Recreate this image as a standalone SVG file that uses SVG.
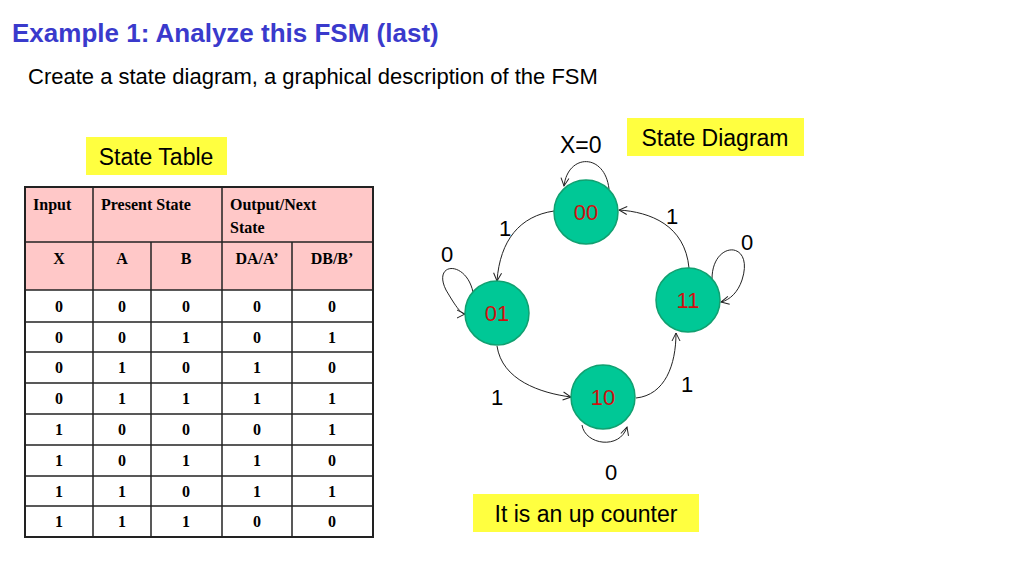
<svg xmlns="http://www.w3.org/2000/svg" width="1024" height="576" viewBox="0 0 1024 576">
<defs>
<style>
.s{font-family:"Liberation Sans",Arial,sans-serif}
.t{font-family:"Liberation Serif","Times New Roman",serif;font-size:16px;text-anchor:middle}
.h{font-family:"Liberation Serif","Times New Roman",serif;font-size:16px;font-weight:bold}
.n{fill:#00c896;stroke:#10a070;stroke-width:1.5}
.nl{font-family:"Liberation Sans",Arial,sans-serif;font-size:22px;fill:#d01010;text-anchor:middle}
.e{fill:none;stroke:#222;stroke-width:1;marker-end:url(#a)}
.l{font-family:"Liberation Sans",Arial,sans-serif;font-size:22px;fill:#000}
.g{stroke:#222;stroke-width:1.5}
</style>
<marker id="a" markerWidth="10" markerHeight="10" refX="9" refY="5" orient="auto" markerUnits="userSpaceOnUse"><path d="M1,1 L9,5 L1,9" fill="none" stroke="#222"/></marker>
</defs>
<rect width="1024" height="576" fill="#fff"/>
<text x="12" y="42" class="s" font-size="26" font-weight="bold" fill="#3a3acc">Example 1: Analyze this FSM (last)</text>
<text x="28" y="84" class="s" font-size="22">Create a state diagram, a graphical description of the FSM</text>
<rect x="86" y="137" width="141" height="38" fill="#ffff40"/>
<text x="156" y="165" class="s" font-size="23" text-anchor="middle">State Table</text>
<rect x="627" y="118" width="177" height="38" fill="#ffff40"/>
<text x="715" y="146" class="s" font-size="23" text-anchor="middle">State Diagram</text>
<text x="560" y="153" class="s" font-size="23">X=0</text>
<rect x="473" y="494" width="226" height="38" fill="#ffff40"/>
<text x="586" y="522" class="s" font-size="23" text-anchor="middle">It is an up counter</text>
<g id="table">
<rect x="25" y="187" width="348" height="103" fill="#ffc8c8"/>
<rect x="25" y="187" width="348" height="350" fill="none" stroke="#222" stroke-width="2"/>
<g class="g">
<line x1="25" y1="242" x2="373" y2="242"/>
<line x1="25" y1="290" x2="373" y2="290"/>
<line x1="25" y1="322" x2="373" y2="322"/>
<line x1="25" y1="352" x2="373" y2="352"/>
<line x1="25" y1="383" x2="373" y2="383"/>
<line x1="25" y1="414" x2="373" y2="414"/>
<line x1="25" y1="445" x2="373" y2="445"/>
<line x1="25" y1="476" x2="373" y2="476"/>
<line x1="25" y1="506" x2="373" y2="506"/>
<line x1="93" y1="187" x2="93" y2="537"/>
<line x1="151" y1="242" x2="151" y2="537"/>
<line x1="222" y1="187" x2="222" y2="537"/>
<line x1="292" y1="242" x2="292" y2="537"/>
</g>
<text x="33" y="210" class="h">Input</text>
<text x="101" y="210" class="h">Present State</text>
<text x="230" y="210" class="h">Output/Next</text>
<text x="230" y="233" class="h">State</text>
<text x="59" y="264" class="h" text-anchor="middle">X</text>
<text x="122" y="264" class="h" text-anchor="middle">A</text>
<text x="186" y="264" class="h" text-anchor="middle">B</text>
<text x="257" y="264" class="h" text-anchor="middle">DA/A’</text>
<text x="332" y="264" class="h" text-anchor="middle">DB/B’</text>
<g class="t" font-weight="bold">
<text x="59" y="312">0</text><text x="122" y="312">0</text><text x="186" y="312">0</text><text x="257" y="312">0</text><text x="332" y="312">0</text>
<text x="59" y="343">0</text><text x="122" y="343">0</text><text x="186" y="343">1</text><text x="257" y="343">0</text><text x="332" y="343">1</text>
<text x="59" y="373">0</text><text x="122" y="373">1</text><text x="186" y="373">0</text><text x="257" y="373">1</text><text x="332" y="373">0</text>
<text x="59" y="404">0</text><text x="122" y="404">1</text><text x="186" y="404">1</text><text x="257" y="404">1</text><text x="332" y="404">1</text>
<text x="59" y="435">1</text><text x="122" y="435">0</text><text x="186" y="435">0</text><text x="257" y="435">0</text><text x="332" y="435">1</text>
<text x="59" y="466">1</text><text x="122" y="466">0</text><text x="186" y="466">1</text><text x="257" y="466">1</text><text x="332" y="466">0</text>
<text x="59" y="497">1</text><text x="122" y="497">1</text><text x="186" y="497">0</text><text x="257" y="497">1</text><text x="332" y="497">1</text>
<text x="59" y="527">1</text><text x="122" y="527">1</text><text x="186" y="527">1</text><text x="257" y="527">0</text><text x="332" y="527">0</text>
</g>
</g>
<g id="connectors">
<path class="e" d="M609,189 C605,153 568,153 564,186"/>
<path class="e" d="M554,211 C520,216 500,240 497,281"/>
<path class="e" d="M473,292 C466,260 432,262 446,290 C452,300 460,314 465,314"/>
<path class="e" d="M497,346 C502,380 540,393 571,397"/>
<path class="e" d="M582,425 C585,445 620,450 627,427"/>
<path class="e" d="M636,398 C665,395 676,365 676,333"/>
<path class="e" d="M689,268 C685,225 650,212 619,210"/>
<path class="e" d="M712,279 C712,240 755,240 742,280 C738,292 730,300 721,302"/>
<text x="499" y="236" class="l">1</text>
<text x="441" y="262" class="l">0</text>
<text x="491" y="405" class="l">1</text>
<text x="605" y="480" class="l">0</text>
<text x="681" y="392" class="l">1</text>
<text x="666" y="224" class="l">1</text>
<text x="741" y="250" class="l">0</text>
</g>
<g id="n00"><circle class="n" cx="586" cy="212" r="32"/><text x="586" y="220" class="nl">00</text></g>
<g id="n01"><circle class="n" cx="497" cy="313" r="32"/><text x="497" y="321" class="nl">01</text></g>
<g id="n11"><circle class="n" cx="688" cy="300" r="32"/><text x="688" y="308" class="nl">11</text></g>
<g id="n10"><circle class="n" cx="603" cy="397" r="32"/><text x="603" y="405" class="nl">10</text></g>
</svg>
